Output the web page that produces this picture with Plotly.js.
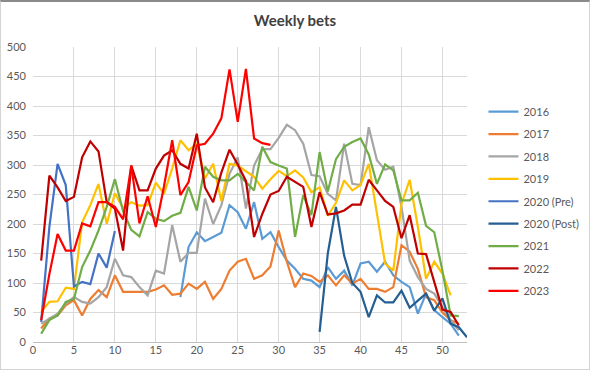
<!DOCTYPE html>
<html>
<head>
<meta charset="utf-8">
<script src="https://cdn.plot.ly/plotly-3.0.1.min.js"></script>
<style>
  html, body { margin: 0; padding: 0; background: #ffffff; }
  #wrap { position: relative; width: 590px; height: 370px; }
  #chart { width: 590px; height: 370px; }
  #frame {
    position: absolute; left: 0; top: 0; width: 590px; height: 370px;
    box-sizing: border-box; border: 1px solid #d4d4d4; border-top: 2px solid #8a8a8a;
    pointer-events: none;
  }
</style>
</head>
<body>
<div id="wrap">
  <div id="chart"></div>
  <div id="frame"></div>
</div>
<script>
// Week numbers of the year
const weeks = [1,2,3,4,5,6,7,8,9,10,11,12,13,14,15,16,17,18,19,20,21,22,23,24,25,26,
               27,28,29,30,31,32,33,34,35,36,37,38,39,40,41,42,43,44,45,46,47,48,49,50,51,52,53];

// Bets per week, one list per season (null = no data that week)
const bets2016 = [null,null,null,null,null,null,null,null,null,null,null,null,null,null,null,null,null,
  76,161,186,171,178,185,232,220,192,237,175,186,161,138,124,107,104,93,127,107,121,96,133,136,119,136,113,102,93,48,82,54,42,31,11];
const bets2017 = [23,40,45,62,71,45,73,88,76,113,85,85,84,85,89,96,80,82,99,90,102,73,90,121,136,141,
  107,113,128,189,136,93,116,112,102,113,96,113,99,107,90,90,85,93,164,153,124,76,71,50,37,31];
const bets2018 = [31,40,48,65,76,68,65,76,93,141,113,110,93,79,121,116,198,136,151,151,243,200,232,285,313,226,
  299,327,327,346,368,359,336,283,281,251,240,336,268,266,364,308,292,297,229,138,110,90,82,59,37,20];
const bets2019 = [51,68,69,92,90,203,232,268,200,252,227,237,231,232,270,251,294,342,325,336,277,302,239,302,299,290,
  280,260,276,290,281,291,279,254,262,214,236,274,257,266,302,218,133,121,234,275,195,107,136,116,79];
const bets2020Pre = [34,195,302,266,94,102,98,150,126,188];
const bets2020Post = [null,null,null,null,null,null,null,null,null,null,null,null,null,null,null,null,null,null,null,null,
  null,null,null,null,null,null,null,null,null,null,null,null,null,null,
  17,150,229,146,100,85,42,79,67,67,87,58,70,82,53,74,31,25,8];
const bets2021 = [14,37,45,68,73,127,155,189,229,276,222,190,179,220,209,205,214,219,263,223,297,280,274,274,285,271,
  257,331,305,299,294,178,249,215,322,255,310,331,339,345,318,268,301,291,240,240,253,197,186,121,45,44];
const bets2022 = [138,282,262,239,246,313,340,323,237,226,155,299,257,257,294,316,325,302,294,353,262,237,287,326,301,273,
  178,217,250,256,280,271,263,195,254,216,218,223,233,233,275,257,239,229,176,215,150,149,101,55,51,28];
const bets2023 = [37,115,183,155,155,201,196,237,237,229,208,299,201,247,195,264,342,249,271,333,336,353,379,462,373,463,
  345,337,334];

const seriesNames = ["2016","2017","2018","2019","2020 (Pre)","2020 (Post)","2021","2022","2023"];
const seriesData = [bets2016,bets2017,bets2018,bets2019,bets2020Pre,bets2020Post,bets2021,bets2022,bets2023];
const seriesColors = ["#5B9BD5","#ED7D31","#A5A5A5","#FFC000","#4472C4","#255E91","#70AD47","#C00000","#FF0000"];

const traces = seriesData.map((vals, i) => ({
  type: "scatter",
  mode: "lines",
  name: seriesNames[i],
  legendgroup: "g" + i,
  x: weeks.slice(0, vals.length),
  y: vals,
  connectgaps: false,
  line: { color: seriesColors[i], width: 2.2 },
  hoverinfo: "x+y+name"
}));

const axisFont = { family: "Lato, 'Open Sans', sans-serif", size: 11, color: "#595959" };

const layout = {
  width: 590,
  height: 370,
  margin: { l: 33, r: 123, t: 47, b: 28, autoexpand: false },
  paper_bgcolor: "#ffffff",
  plot_bgcolor: "#ffffff",
  title: {
    text: "Weekly bets",
    font: { family: "Lato, 'Open Sans', sans-serif", size: 15, color: "#404040", weight: 700 },
    x: 0.5, xanchor: "center", y: 0.943, yanchor: "middle"
  },
  xaxis: {
    range: [0, 53],
    tick0: 0, dtick: 5,
    showgrid: true, gridcolor: "#d9d9d9", gridwidth: 1,
    zeroline: false,
    showline: false,
    ticks: "",
    tickfont: axisFont,
    fixedrange: true
  },
  yaxis: {
    range: [0, 500],
    tick0: 0, dtick: 50,
    showgrid: true, gridcolor: "#d9d9d9", gridwidth: 1,
    zeroline: true, zerolinecolor: "#bfbfbf", zerolinewidth: 1,
    showline: false,
    ticks: "",
    ticklabelstandoff: 6,
    tickfont: axisFont,
    fixedrange: true
  },
  showlegend: true,
  legend: {
    x: 1.038, xanchor: "left",
    y: 0.83, yanchor: "top",
    font: axisFont,
    tracegroupgap: 3.4,
    itemwidth: 30,
    bgcolor: "rgba(0,0,0,0)"
  }
};

Plotly.newPlot("chart", traces, layout, { displayModeBar: false, staticPlot: true });
</script>
</body>
</html>
